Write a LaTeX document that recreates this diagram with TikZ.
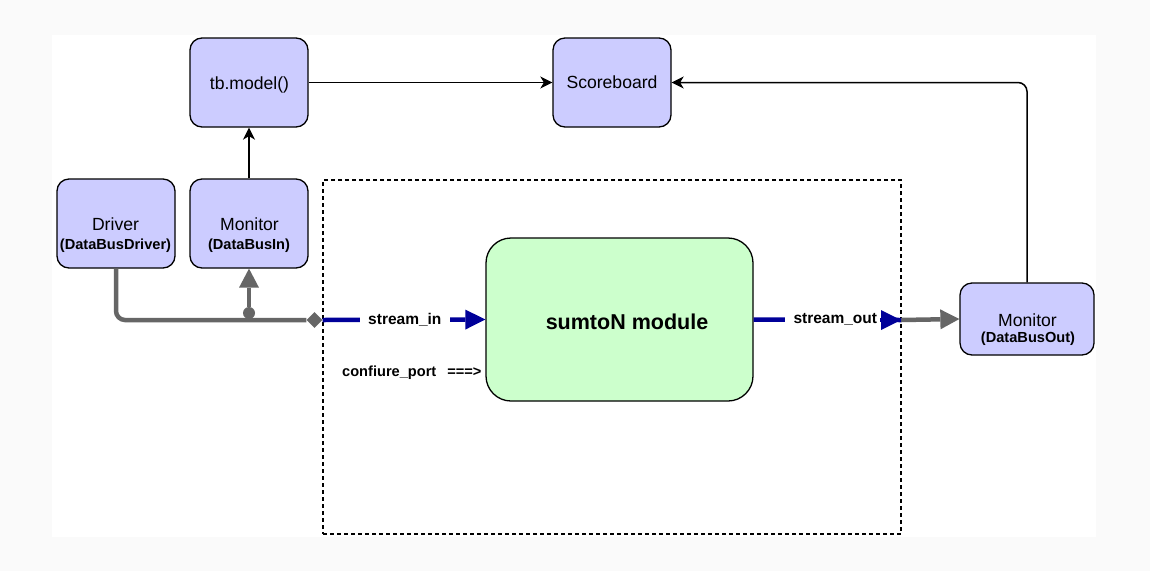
\documentclass[tikz,border=0pt]{standalone}
\usepackage{fontspec}
\setmainfont{Liberation Sans}
\usetikzlibrary{arrows.meta,shapes.geometric}
\definecolor{boxblue}{HTML}{CCCCFF}
\definecolor{modgreen}{HTML}{CCFFCC}
\definecolor{busblue}{HTML}{000099}
\definecolor{busgray}{HTML}{666666}
\definecolor{pagebg}{HTML}{FAFAFA}
\begin{document}
\begin{tikzpicture}[x=1pt,y=-1pt]
\tikzset{
  unitbox/.style={draw=black, line width=1.3pt, fill=boxblue, rounded corners=12pt,
    minimum width=118pt, minimum height=89pt, inner sep=0pt},
  regtext/.style={anchor=base, inner sep=0pt, font=\fontsize{17.6}{20}\selectfont},
  subtext/.style={anchor=base, inner sep=0pt, font=\bfseries\fontsize{14.6}{17}\selectfont},
  portlbl/.style={fill=white, inner xsep=8.5pt, inner ysep=2pt, font=\bfseries\fontsize{15.5}{18}\selectfont},
  blackarrow/.style={draw=black, line width=1.5pt, -{Stealth[length=12pt,width=12pt,inset=3.5pt]}},
  blueline/.style={draw=busblue, line width=4.5pt},
  bluetip/.style={draw=busblue, line width=4.5pt, -{Triangle[length=20pt,width=20pt,line width=0pt]}},
  grayline/.style={draw=busgray, line width=4.5pt},
  graytip/.style={draw=busgray, line width=4.5pt, -{Triangle[length=19pt,width=20pt,line width=0pt]}},
}
% backgrounds
\fill[pagebg] (0,0) rectangle (1150,571);
\fill[white] (52,35) rectangle (1096,537);
\useasboundingbox (0,0) rectangle (1150,571);

% dashed DUT frame
\node[draw=black, dashed, dash pattern=on 4pt off 3pt, line width=1.3pt, minimum width=578pt,
  minimum height=354pt, inner sep=0pt] (dut) at (612,357) {};

% boxes
\node[unitbox] (tbm) at (249,82.5) {};
\node[unitbox] (score) at (612,82.5) {};
\node[unitbox] (driver) at (116,223.5) {};
\node[unitbox] (monin) at (249,223.5) {};
\node[unitbox, minimum width=134pt, minimum height=72pt] (monout) at (1027,319) {};
\node[draw=black, line width=1.3pt, fill=modgreen, rounded corners=25pt, minimum width=267pt,
  minimum height=163pt, inner sep=0pt] (module) at (619.5,319.5) {};

% box texts
\node[regtext] (tbmtxt) at (249.5,89) {tb.model()};
\node[regtext] (scoretxt) at (612,88.5) {Scoreboard};
\node[regtext] (drvtxt) at (115.5,230) {Driver};
\node[subtext] (drvsub) at (115.5,249) {(DataBusDriver)};
\node[regtext] (monintxt) at (249.5,230) {Monitor};
\node[subtext] (moninsub) at (249,249) {(DataBusIn)};
\node[regtext] (monouttxt) at (1027.5,326.5) {Monitor};
\node[subtext] (monoutsub) at (1028,342.5) {(DataBusOut)};
\node[anchor=base, inner sep=0pt, font=\bfseries\fontsize{21.5}{24}\selectfont] (modtxt) at (627,329) {sumtoN module};
\node[anchor=base west, inner sep=0pt, font=\bfseries\fontsize{14.6}{17}\selectfont] (cfgtxt) at (342,376.7) {confiure\_port\hspace{11pt}===>};

% markers
\node[diamond, fill=busgray, minimum width=16pt, minimum height=16pt, inner sep=0pt] (dmd) at (314.5,320) {};
\node[circle, fill=busgray, minimum size=12pt, inner sep=0pt] (dot) at (249,313) {};
\coordinate (outport) at (901,320);
\coordinate (outtipbase) at (880,320);

% black connectors
\draw[blackarrow] (tbm.east) -- (score.west);
\draw[blackarrow] (monin.north) -- (tbm.south);
\draw[blackarrow, rounded corners=9pt] (monout.north) |- (score.east);

% gray bus
\draw[grayline, rounded corners=9pt] (driver.south) |- (dmd.west);
\draw[graytip] (dot) -- (monin.south);
\draw[graytip] (outport) -- (monout.west);

% blue ports
\draw[bluetip] (dmd.east) -- (module.west) node[portlbl, pos=0.505] (sinlbl) {stream\_in};
\draw[blueline] (module.east) -- (outport) node[portlbl, pos=0.554] (soutlbl) {stream\_out};
\draw[bluetip] (outtipbase) -- (outport);
\end{tikzpicture}
\end{document}
